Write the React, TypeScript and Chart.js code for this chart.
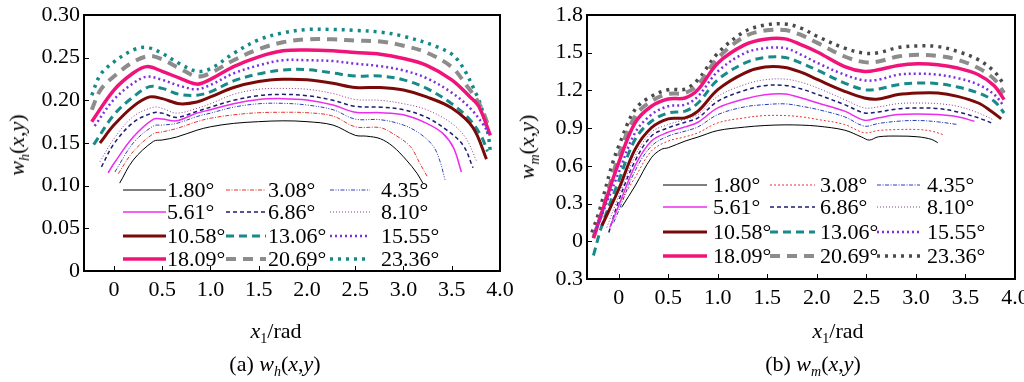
import React, { useEffect, useRef } from "react";
import { Chart, registerables } from "chart.js";
Chart.register(...registerables);

type Pt = [number, number];

// ---------- tick values and labels ----------
const xTickValues = [0, 0.5, 1.0, 1.5, 2.0, 2.5, 3.0, 3.5, 4.0];
const xTickLabels = ["0", "0.5", "1.0", "1.5", "2.0", "2.5", "3.0", "3.5", "4.0"];
const whYTickValues = [0, 0.05, 0.1, 0.15, 0.2, 0.25, 0.3];
const whYTickLabels = ["0", "0.05", "0.10", "0.15", "0.20", "0.25", "0.30"];
const wmYTickValues = [-0.3, 0, 0.3, 0.6, 0.9, 1.2, 1.5, 1.8];
const wmYTickLabels = ["0.3", "0", "0.3", "0.6", "0.9", "1.2", "1.5", "1.8"];

// ---------- legend labels (angles) ----------
const angleLabels = ["1.80°", "3.08°", "4.35°", "5.61°", "6.86°", "8.10°", "10.58°", "13.06°", "15.55°", "18.09°", "20.69°", "23.36°"];

// ---------- panel (a): w_h(x,y) ----------
const wh180: Pt[] = [[0.06,0.103],[0.2,0.13],[0.41,0.152],[0.5,0.1535],[0.65,0.157],[0.86,0.165],[1.0,0.169],[1.24,0.173],[1.5,0.175],[1.75,0.176],[2.0,0.175],[2.27,0.171],[2.5,0.159],[2.62,0.158],[2.76,0.155],[2.89,0.146],[3.03,0.13],[3.14,0.1145],[3.2,0.103]];
const wh308: Pt[] = [[0.045,0.114],[0.2,0.14],[0.41,0.161],[0.5,0.163],[0.65,0.167],[0.86,0.175],[1.0,0.179],[1.24,0.183],[1.5,0.1855],[1.75,0.186],[2.0,0.1855],[2.27,0.1816],[2.5,0.169],[2.76,0.168],[2.89,0.161],[3.07,0.146],[3.17,0.126],[3.25,0.11]];
const wh435: Pt[] = [[0.01,0.116],[0.2,0.15],[0.41,0.17],[0.5,0.171],[0.65,0.173],[0.86,0.181],[1.0,0.185],[1.24,0.192],[1.5,0.196],[1.75,0.1965],[2.0,0.1945],[2.27,0.189],[2.5,0.178],[2.76,0.1773],[3.0,0.171],[3.17,0.161],[3.31,0.146],[3.38,0.128],[3.43,0.107]];
const wh561: Pt[] = [[-0.06,0.115],[0.0,0.126],[0.2,0.157],[0.41,0.178],[0.5,0.178],[0.65,0.176],[0.86,0.185],[1.0,0.189],[1.24,0.196],[1.5,0.201],[1.75,0.202],[2.0,0.2004],[2.27,0.1945],[2.5,0.186],[2.76,0.1855],[3.0,0.183],[3.24,0.173],[3.41,0.161],[3.52,0.144],[3.6,0.116]];
const wh686: Pt[] = [[-0.13,0.122],[0.0,0.149],[0.2,0.174],[0.41,0.1855],[0.5,0.185],[0.65,0.18],[0.86,0.187],[1.0,0.192],[1.24,0.2],[1.5,0.2055],[1.75,0.207],[2.0,0.2055],[2.27,0.2],[2.5,0.193],[2.76,0.192],[3.0,0.189],[3.24,0.18],[3.45,0.165],[3.62,0.147],[3.72,0.121]];
const wh810: Pt[] = [[-0.145,0.128],[0.0,0.155],[0.2,0.181],[0.41,0.192],[0.5,0.1906],[0.65,0.185],[0.86,0.1906],[1.0,0.196],[1.24,0.207],[1.5,0.213],[1.75,0.214],[2.0,0.213],[2.27,0.208],[2.5,0.201],[2.76,0.2],[3.0,0.196],[3.24,0.189],[3.5,0.173],[3.65,0.155],[3.76,0.128]];
const wh1058: Pt[] = [[-0.145,0.15],[0.0,0.171],[0.2,0.193],[0.37,0.204],[0.5,0.202],[0.68,0.196],[0.86,0.198],[1.0,0.204],[1.24,0.215],[1.5,0.222],[1.75,0.2246],[2.0,0.224],[2.27,0.22],[2.5,0.215],[2.76,0.215],[3.0,0.212],[3.24,0.204],[3.5,0.191],[3.72,0.168],[3.86,0.131]];
const wh1306: Pt[] = [[-0.21,0.148],[0.0,0.183],[0.2,0.204],[0.37,0.216],[0.5,0.214],[0.68,0.207],[0.86,0.206],[1.0,0.21],[1.24,0.2227],[1.5,0.231],[1.75,0.2355],[2.0,0.236],[2.27,0.232],[2.5,0.2285],[2.76,0.2285],[3.0,0.224],[3.24,0.214],[3.5,0.196],[3.69,0.177],[3.81,0.157],[3.87,0.14]];
const wh1555: Pt[] = [[-0.2,0.17],[0.0,0.201],[0.2,0.22],[0.34,0.2277],[0.5,0.224],[0.68,0.217],[0.86,0.213],[1.0,0.218],[1.24,0.2316],[1.5,0.241],[1.75,0.247],[2.0,0.247],[2.27,0.246],[2.5,0.243],[2.76,0.24],[3.0,0.235],[3.24,0.226],[3.5,0.209],[3.69,0.191],[3.83,0.171],[3.88,0.161]];
const wh1809: Pt[] = [[-0.23,0.175],[0.0,0.212],[0.2,0.232],[0.34,0.2395],[0.5,0.234],[0.68,0.226],[0.86,0.219],[1.0,0.2246],[1.24,0.2395],[1.5,0.251],[1.75,0.258],[2.0,0.259],[2.27,0.258],[2.5,0.256],[2.76,0.254],[3.0,0.249],[3.24,0.241],[3.5,0.224],[3.69,0.204],[3.78,0.193],[3.9,0.159]];
const wh2069: Pt[] = [[-0.23,0.189],[-0.14,0.212],[0.0,0.228],[0.2,0.245],[0.37,0.252],[0.5,0.248],[0.68,0.2375],[0.86,0.228],[1.0,0.232],[1.24,0.247],[1.5,0.26],[1.75,0.268],[2.0,0.2715],[2.27,0.2715],[2.5,0.27],[2.76,0.269],[3.0,0.264],[3.24,0.256],[3.5,0.239],[3.65,0.218],[3.79,0.195],[3.89,0.167]];
const wh2336: Pt[] = [[-0.23,0.206],[-0.14,0.23],[0.0,0.245],[0.2,0.259],[0.34,0.262],[0.5,0.255],[0.68,0.243],[0.86,0.234],[1.0,0.237],[1.24,0.255],[1.5,0.271],[1.75,0.279],[2.0,0.283],[2.27,0.283],[2.5,0.282],[2.76,0.28],[3.0,0.275],[3.34,0.263],[3.55,0.249],[3.76,0.206],[3.83,0.183],[3.88,0.158],[3.9,0.14]];

// ---------- panel (b): w_m(x,y) ----------
const wm180: Pt[] = [[0.03,0.27],[0.165,0.44],[0.33,0.665],[0.43,0.731],[0.5,0.744],[0.67,0.797],[0.8,0.829],[1.0,0.881],[1.27,0.908],[1.475,0.921],[1.68,0.926],[1.845,0.924],[2.01,0.916],[2.28,0.884],[2.45,0.83],[2.53,0.805],[2.62,0.831],[2.82,0.837],[3.02,0.831],[3.16,0.81],[3.22,0.784]];
const wm308: Pt[] = [[0.01,0.31],[0.165,0.507],[0.33,0.718],[0.5,0.797],[0.67,0.831],[0.8,0.863],[1.0,0.942],[1.27,0.982],[1.475,1.0],[1.68,1.0],[1.845,0.99],[2.01,0.969],[2.28,0.929],[2.48,0.863],[2.62,0.881],[2.82,0.889],[3.02,0.889],[3.16,0.876],[3.27,0.85]];
const wm435: Pt[] = [[-0.05,0.15],[0.0,0.243],[0.165,0.56],[0.33,0.757],[0.5,0.837],[0.67,0.876],[0.8,0.91],[1.0,1.008],[1.27,1.069],[1.475,1.087],[1.68,1.093],[1.845,1.074],[2.01,1.048],[2.28,0.99],[2.48,0.916],[2.62,0.937],[2.82,0.955],[3.02,0.961],[3.22,0.95],[3.42,0.929]];
const wm561: Pt[] = [[-0.09,0.11],[0.0,0.282],[0.165,0.6],[0.33,0.797],[0.5,0.868],[0.67,0.91],[0.8,0.947],[1.0,1.061],[1.27,1.132],[1.475,1.166],[1.68,1.172],[1.845,1.14],[2.01,1.1],[2.28,1.035],[2.48,0.963],[2.62,0.982],[2.82,1.008],[3.02,1.013],[3.22,1.008],[3.42,0.99],[3.59,0.955]];
const wm686: Pt[] = [[-0.1,0.07],[0.0,0.322],[0.165,0.639],[0.33,0.837],[0.5,0.903],[0.67,0.947],[0.8,0.982],[1.0,1.114],[1.27,1.2],[1.475,1.238],[1.68,1.24],[1.845,1.211],[2.01,1.167],[2.28,1.087],[2.48,1.021],[2.62,1.029],[2.82,1.053],[3.02,1.061],[3.22,1.056],[3.42,1.029],[3.63,0.982],[3.76,0.942]];
const wm810: Pt[] = [[-0.12,0.11],[0.0,0.36],[0.165,0.678],[0.33,0.868],[0.5,0.929],[0.67,0.969],[0.8,1.008],[1.0,1.153],[1.27,1.246],[1.475,1.285],[1.68,1.29],[1.845,1.264],[2.01,1.219],[2.28,1.127],[2.48,1.061],[2.62,1.069],[2.82,1.095],[3.02,1.1],[3.22,1.095],[3.42,1.074],[3.63,1.021],[3.79,0.963]];
const wm1058: Pt[] = [[-0.17,0.124],[0.0,0.414],[0.165,0.731],[0.33,0.903],[0.5,0.974],[0.67,0.982],[0.8,1.035],[1.0,1.206],[1.27,1.338],[1.475,1.386],[1.68,1.383],[1.845,1.343],[2.01,1.285],[2.28,1.193],[2.48,1.14],[2.62,1.132],[2.82,1.167],[3.02,1.18],[3.22,1.18],[3.42,1.153],[3.63,1.1],[3.76,1.035],[3.86,0.974]];
const wm1306: Pt[] = [[-0.255,-0.113],[-0.17,0.124],[0.0,0.48],[0.165,0.81],[0.33,0.955],[0.5,1.021],[0.67,1.035],[0.8,1.1],[1.0,1.285],[1.27,1.417],[1.475,1.462],[1.68,1.462],[1.845,1.417],[2.01,1.359],[2.28,1.259],[2.48,1.206],[2.62,1.211],[2.82,1.246],[3.02,1.259],[3.22,1.254],[3.42,1.227],[3.63,1.18],[3.79,1.114],[3.89,1.021]];
const wm1555: Pt[] = [[-0.24,0.07],[0.0,0.546],[0.165,0.863],[0.33,1.008],[0.5,1.074],[0.67,1.087],[0.8,1.153],[1.0,1.351],[1.27,1.496],[1.475,1.536],[1.68,1.536],[1.845,1.483],[2.01,1.417],[2.28,1.325],[2.48,1.28],[2.62,1.285],[2.82,1.325],[3.02,1.333],[3.22,1.325],[3.42,1.298],[3.63,1.246],[3.79,1.167],[3.89,1.074]];
const wm1809: Pt[] = [[-0.255,0.024],[-0.17,0.23],[0.0,0.625],[0.165,0.942],[0.33,1.074],[0.5,1.132],[0.67,1.14],[0.8,1.206],[1.0,1.417],[1.27,1.562],[1.475,1.607],[1.68,1.61],[1.845,1.562],[2.01,1.504],[2.28,1.39],[2.48,1.351],[2.62,1.364],[2.82,1.399],[3.02,1.412],[3.22,1.404],[3.42,1.378],[3.63,1.325],[3.79,1.238],[3.89,1.127]];
const wm2069: Pt[] = [[-0.255,0.03],[-0.17,0.23],[0.0,0.678],[0.165,0.995],[0.33,1.114],[0.5,1.172],[0.67,1.18],[0.8,1.246],[1.0,1.457],[1.27,1.628],[1.475,1.676],[1.68,1.68],[1.845,1.64],[2.01,1.576],[2.28,1.47],[2.48,1.425],[2.62,1.43],[2.82,1.47],[3.02,1.483],[3.22,1.475],[3.42,1.444],[3.63,1.378],[3.79,1.29],[3.89,1.18]];
const wm2336: Pt[] = [[-0.27,0.07],[-0.2,0.23],[-0.07,0.6],[0.0,0.757],[0.165,1.048],[0.33,1.153],[0.5,1.206],[0.67,1.211],[0.8,1.285],[1.0,1.496],[1.27,1.668],[1.475,1.72],[1.68,1.729],[1.845,1.694],[2.01,1.628],[2.28,1.536],[2.48,1.496],[2.62,1.5],[2.82,1.541],[3.02,1.554],[3.22,1.549],[3.42,1.51],[3.63,1.444],[3.79,1.351],[3.89,1.246]];

const whSeries = [wh180, wh308, wh435, wh561, wh686, wh810, wh1058, wh1306, wh1555, wh1809, wh2069, wh2336];
const wmSeries = [wm180, wm308, wm435, wm561, wm686, wm810, wm1058, wm1306, wm1555, wm1809, wm2069, wm2336];

// ---------- styles ----------
const whColors = ["#000000", "#e3342a", "#2a3cc0", "#ee2cee", "#1c1c72", "#8a3c8a", "#7a0a0a", "#188a8a", "#7d2ee0", "#f0147a", "#8c8c8c", "#14898a"];
const wmColors = ["#000000", "#e3342a", "#2a3cc0", "#ee2cee", "#1c1c72", "#8a3c8a", "#7a0a0a", "#188a8a", "#7d2ee0", "#f0147a", "#8c8c8c", "#4a4a4a"];
const lineWidths = [1, 1, 1, 1.5, 1.5, 1, 3, 3, 2.5, 3.5, 4, 3.5];
const whDashes: number[][] = [[], [4, 1.5, 1, 1.5], [4, 1.5, 1, 1.5, 1, 1.5], [], [4, 3], [1, 2], [], [8, 5], [2, 3], [], [10, 7], [3, 5]];
const wmDashes: number[][] = [[], [2, 2], [4, 1.5, 1, 1.5], [], [4, 3], [1, 2], [], [8, 5], [2, 3], [], [10, 7], [3, 5]];

const SERIF = '"Liberation Serif", "Times New Roman", serif';

function labelFor(values: number[], labels: string[], v: number) {
  const i = values.findIndex((t) => Math.abs(t - v) < 1e-6);
  return i >= 0 ? labels[i] : "";
}

const framePlugin = {
  id: "frameTicks",
  afterDraw(chart: any) {
    const { ctx, chartArea: a, scales } = chart;
    ctx.save();
    ctx.strokeStyle = "#000";
    ctx.lineWidth = 1;
    ctx.setLineDash([]);
    ctx.beginPath();
    scales.x.ticks.forEach((t: any) => {
      const px = Math.round(scales.x.getPixelForValue(t.value)) + 0.5;
      ctx.moveTo(px, a.bottom);
      ctx.lineTo(px, a.bottom - 5);
    });
    scales.y.ticks.forEach((t: any) => {
      const py = Math.round(scales.y.getPixelForValue(t.value)) + 0.5;
      ctx.moveTo(a.left, py);
      ctx.lineTo(a.left + 5, py);
    });
    ctx.stroke();
    ctx.lineWidth = 2;
    ctx.strokeRect(a.left, a.top, a.right - a.left, a.bottom - a.top);
    ctx.restore();
  },
};

const legendPlugin = {
  id: "innerLegend",
  afterDraw(chart: any, _args: any, opts: any) {
    const { ctx } = chart;
    chart.data.datasets.forEach((ds: any, i: number) => {
      const r = Math.floor(i / 3);
      const c = i % 3;
      const y = opts.rows[r];
      ctx.save();
      ctx.strokeStyle = ds.borderColor;
      ctx.lineWidth = ds.borderWidth;
      ctx.setLineDash(ds.borderDash || []);
      ctx.lineCap = "butt";
      ctx.beginPath();
      ctx.moveTo(opts.lineStart[c], y);
      ctx.lineTo(opts.lineEnd[c], y);
      ctx.stroke();
      ctx.setLineDash([]);
      ctx.fillStyle = "#000";
      ctx.font = `22px ${SERIF}`;
      ctx.textBaseline = "middle";
      ctx.textAlign = "left";
      ctx.fillText(ds.label, opts.textX[c], y + 1);
      ctx.restore();
    });
  },
};

type PanelProps = {
  series: Pt[][];
  colors: string[];
  dashes: number[][];
  width: number;
  left: number;
  areaLeft: number;
  areaRight: number;
  areaBottom: number;
  xMin: number;
  yMin: number;
  yMax: number;
  yValues: number[];
  yLabels: string[];
  legend: any;
};

function Panel(p: PanelProps) {
  const ref = useRef<HTMLCanvasElement>(null);
  useEffect(() => {
    if (!ref.current) return;
    const xAxisH = 40;
    const chart = new Chart(ref.current, {
      type: "line",
      data: {
        datasets: p.series.map((s, i) => ({
          label: angleLabels[i],
          data: s.map(([x, y]) => ({ x, y })),
          borderColor: p.colors[i],
          backgroundColor: p.colors[i],
          borderWidth: lineWidths[i],
          borderDash: p.dashes[i],
          pointRadius: 0,
          tension: 0.35,
          fill: false,
        })),
      },
      options: {
        animation: false,
        responsive: false,
        events: [],
        layout: {
          padding: { left: 0, top: 15, right: p.width - p.areaRight, bottom: 382 - p.areaBottom - xAxisH },
        },
        plugins: {
          legend: { display: false },
          tooltip: { enabled: false },
          // @ts-ignore
          innerLegend: p.legend,
        },
        scales: {
          x: {
            type: "linear",
            min: p.xMin,
            max: 4.0,
            grid: { display: false, drawTicks: false },
            border: { display: false },
            afterBuildTicks: (s: any) => {
              s.ticks = xTickValues.map((v) => ({ value: v }));
            },
            afterFit: (s: any) => {
              s.height = xAxisH;
              s.paddingLeft = 0;
              s.paddingRight = 0;
            },
            ticks: {
              autoSkip: false,
              maxRotation: 0,
              padding: 6,
              color: "#000",
              font: { family: SERIF, size: 22 },
              callback: (v: any) => labelFor(xTickValues, xTickLabels, Number(v)),
            },
          },
          y: {
            type: "linear",
            min: p.yMin,
            max: p.yMax,
            grid: { display: false, drawTicks: false },
            border: { display: false },
            afterBuildTicks: (s: any) => {
              s.ticks = p.yValues.map((v) => ({ value: v }));
            },
            afterFit: (s: any) => {
              s.width = p.areaLeft;
              s.paddingTop = 0;
              s.paddingBottom = 0;
            },
            ticks: {
              autoSkip: false,
              padding: 4,
              color: "#000",
              font: { family: SERIF, size: 22 },
              callback: (v: any) => labelFor(p.yValues, p.yLabels, Number(v)),
            },
          },
        },
      },
      plugins: [framePlugin, legendPlugin],
    } as any);
    return () => chart.destroy();
  }, []);
  return <canvas ref={ref} width={p.width} height={382} style={{ position: "absolute", left: p.left, top: 0 }} />;
}

function Txt(props: { x: number; y: number; rotate?: boolean; children: any }) {
  return (
    <div
      style={{
        position: "absolute",
        left: props.x,
        top: props.y,
        transform: `translate(-50%, -50%)${props.rotate ? " rotate(-90deg)" : ""}`,
        whiteSpace: "nowrap",
        fontSize: 22,
        lineHeight: "22px",
        fontFamily: SERIF,
        color: "#000",
      }}
    >
      {props.children}
    </div>
  );
}

const subStyle: React.CSSProperties = { fontSize: 14, verticalAlign: "-5px", lineHeight: 0 };

export default function App() {
  return (
    <div style={{ position: "absolute", left: 0, top: 0, width: 1024, height: 382, background: "#fff", overflow: "hidden" }}>
      <Panel
        series={whSeries}
        colors={whColors}
        dashes={whDashes}
        width={520}
        left={0}
        areaLeft={84}
        areaRight={500}
        areaBottom={271}
        xMin={-0.31}
        yMin={0}
        yMax={0.3}
        yValues={whYTickValues}
        yLabels={whYTickLabels}
        legend={{ rows: [190, 212, 236, 259], lineStart: [123, 226, 330], lineEnd: [166, 266, 370], textX: [167, 268, 381] }}
      />
      <Panel
        series={wmSeries}
        colors={wmColors}
        dashes={wmDashes}
        width={512}
        left={512}
        areaLeft={75}
        areaRight={503}
        areaBottom={279}
        xMin={-0.32}
        yMin={-0.3}
        yMax={1.8}
        yValues={wmYTickValues}
        yLabels={wmYTickLabels}
        legend={{ rows: [185, 207, 232, 256], lineStart: [151, 258, 365], lineEnd: [195, 303, 408], textX: [201, 308, 415] }}
      />
      <Txt x={17} y={145} rotate>
        <i>w</i><sub style={subStyle}><i>h</i></sub>(<i>x</i>,<i>y</i>)
      </Txt>
      <Txt x={527} y={147} rotate>
        <i>w</i><sub style={subStyle}><i>m</i></sub>(<i>x</i>,<i>y</i>)
      </Txt>
      <Txt x={276} y={331}>
        <i>x</i><sub style={subStyle}>1</sub>/rad
      </Txt>
      <Txt x={838} y={331}>
        <i>x</i><sub style={subStyle}>1</sub>/rad
      </Txt>
      <Txt x={275} y={364}>
        (a) <i>w</i><sub style={subStyle}><i>h</i></sub>(<i>x</i>,<i>y</i>)
      </Txt>
      <Txt x={813} y={364}>
        (b) <i>w</i><sub style={subStyle}><i>m</i></sub>(<i>x</i>,<i>y</i>)
      </Txt>
    </div>
  );
}
